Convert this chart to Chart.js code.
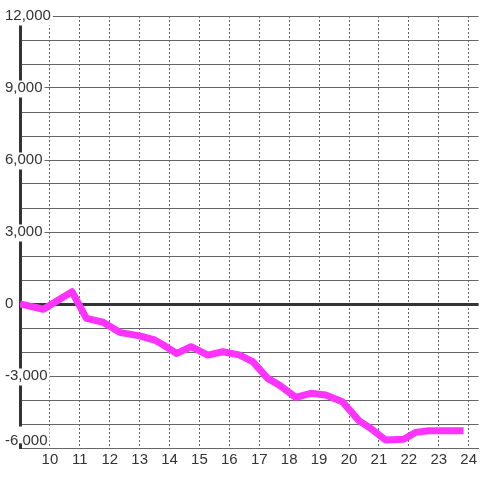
<!DOCTYPE html>
<html>
<head>
<meta charset="utf-8">
<script src="https://cdn.jsdelivr.net/npm/chart.js@4/dist/chart.umd.min.js"></script>
<style>
  html, body { margin: 0; padding: 0; background: #ffffff; }
  #wrap { width: 480px; height: 480px; }
</style>
</head>
<body>
<div id="wrap"><canvas id="c" width="480" height="480"></canvas></div>
<script>
// Data
const xValues = [9, 9.78, 10.74, 11.22, 11.78, 12.33, 13.0, 13.5, 13.78, 14.24, 14.72, 15.28, 15.78, 16.33, 16.78, 17.28, 17.67, 18.22, 18.72, 19.22, 19.78, 20.33, 20.72, 21.22, 21.83, 22.22, 22.67, 23.83];
const yValues = [0, -220, 510, -600, -760, -1180, -1330, -1500, -1700, -2060, -1780, -2130, -1990, -2120, -2400, -3100, -3380, -3890, -3720, -3790, -4070, -4860, -5180, -5670, -5640, -5350, -5280, -5280];
const xTickLabels = [10, 11, 12, 13, 14, 15, 16, 17, 18, 19, 20, 21, 22, 23, 24];
const yTickLabels = [-6000, -3000, 0, 3000, 6000, 9000, 12000];

const points = xValues.map((x, i) => ({ x: x, y: yValues[i] }));
const fontFamily = '"Liberation Sans", Arial, sans-serif';
const yMin = -6000;
const yMinLabel = yMin.toLocaleString('en-US');

// Lifts the lowest y label so that it sits just above the bottom of the axis
const liftBottomLabel = {
  id: 'liftBottomLabel',
  beforeDraw(chart) {
    const scale = chart.scales.y;
    const items = scale.getLabelItems(chart.chartArea);
    items.forEach((item) => {
      if (item.label === yMinLabel && !item._lifted) {
        item._lifted = true;
        item.options.translation[1] -= 7;
        if (item.options.backdrop) item.options.backdrop.top -= 7;
      }
    });
  }
};

new Chart(document.getElementById('c'), {
  type: 'line',
  data: {
    datasets: [{
      data: points,
      borderColor: '#ff33ff',
      backgroundColor: '#ff33ff',
      borderWidth: 7,
      pointRadius: 0,
      pointHoverRadius: 0,
      tension: 0,
      borderJoinStyle: 'round',
      borderCapStyle: 'butt',
      fill: false
    }]
  },
  plugins: [liftBottomLabel],
  options: {
    responsive: false,
    animation: false,
    events: [],
    layout: { padding: { top: 16, left: 0, right: 0, bottom: 0 } },
    plugins: { legend: { display: false }, tooltip: { enabled: false } },
    scales: {
      x: {
        type: 'linear',
        min: 9,
        max: 24.3333,
        afterFit: (s) => { s.height = 32; },
        border: { display: true, color: '#666666', width: 1, dash: [2, 2] },
        grid: { color: '#666666', lineWidth: 1, drawTicks: false },
        ticks: {
          stepSize: 1,
          includeBounds: false,
          autoSkip: false,
          maxRotation: 0,
          padding: 3,
          z: 2,
          color: '#333333',
          font: { family: fontFamily, size: 15 },
          callback: (v) => xTickLabels.includes(v) ? String(v) : ''
        }
      },
      y: {
        type: 'linear',
        min: yMin,
        max: 12000,
        afterFit: (s) => { s.width = 20; },
        border: { display: true, color: '#333333', width: 3 },
        grid: {
          drawTicks: false,
          color: (ctx) => ctx.tick && ctx.tick.value === 0 ? '#333333' : '#666666',
          lineWidth: (ctx) => ctx.tick && ctx.tick.value === 0 ? 3 : 1
        },
        ticks: {
          stepSize: 1000,
          autoSkip: false,
          mirror: true,
          crossAlign: 'near',
          padding: -15,
          z: 1,
          color: '#333333',
          font: { family: fontFamily, size: 15, lineHeight: 1.0 },
          showLabelBackdrop: (ctx) => yTickLabels.includes(ctx.tick.value),
          backdropColor: '#ffffff',
          backdropPadding: { left: 1, right: 2, top: 0, bottom: 2 },
          callback: (v) => yTickLabels.includes(v) ? v.toLocaleString('en-US') : ''
        }
      }
    }
  }
});
</script>
</body>
</html>
